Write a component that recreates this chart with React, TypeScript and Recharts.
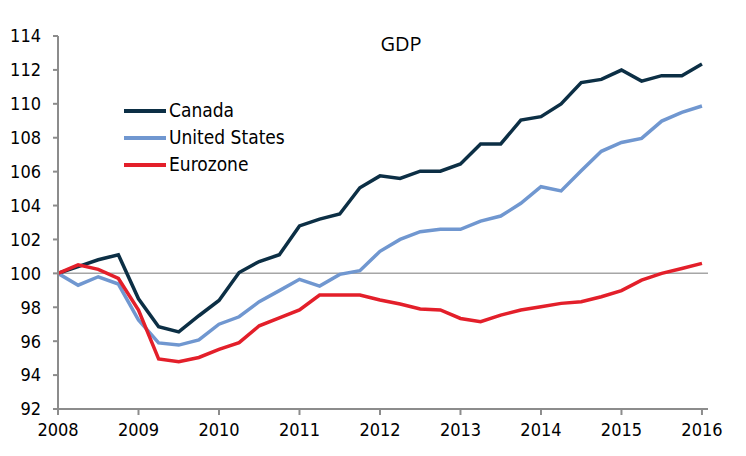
import { LineChart, Line, XAxis, YAxis, ReferenceLine } from 'recharts';

const quarters = [
  '2008Q1', '2008Q2', '2008Q3', '2008Q4',
  '2009Q1', '2009Q2', '2009Q3', '2009Q4',
  '2010Q1', '2010Q2', '2010Q3', '2010Q4',
  '2011Q1', '2011Q2', '2011Q3', '2011Q4',
  '2012Q1', '2012Q2', '2012Q3', '2012Q4',
  '2013Q1', '2013Q2', '2013Q3', '2013Q4',
  '2014Q1', '2014Q2', '2014Q3', '2014Q4',
  '2015Q1', '2015Q2', '2015Q3', '2015Q4',
  '2016Q1',
];

const canada = [
  100.0, 100.4, 100.8, 101.1,
  98.5, 96.85, 96.55, 97.5,
  98.4, 100.05, 100.7, 101.1,
  102.8, 103.2, 103.5, 105.05,
  105.75, 105.6, 106.03, 106.03,
  106.45, 107.63, 107.63, 109.04,
  109.24, 109.99, 111.25, 111.44,
  111.99, 111.34, 111.66, 111.66,
  112.35,
];

const unitedStates = [
  100.0, 99.3, 99.8, 99.37,
  97.25, 95.9, 95.77, 96.07,
  97.0, 97.44, 98.33, 98.98,
  99.65, 99.25, 99.94, 100.16,
  101.3, 102.0, 102.46, 102.6,
  102.6, 103.08, 103.38, 104.13,
  105.11, 104.86, 106.05, 107.2,
  107.72, 107.96, 108.98, 109.5,
  109.87,
];

const eurozone = [
  100.0, 100.5, 100.24, 99.7,
  97.84, 94.95, 94.79, 95.04,
  95.52, 95.91, 96.91, 97.38,
  97.84, 98.72, 98.72, 98.72,
  98.43, 98.19, 97.9, 97.84,
  97.34, 97.15, 97.54, 97.84,
  98.03, 98.23, 98.33, 98.62,
  98.98, 99.6, 100.0, 100.29,
  100.59,
];

const yearTicks = [0, 4, 8, 12, 16, 20, 24, 28, 32];
const yearLabels = ['2008', '2009', '2010', '2011', '2012', '2013', '2014', '2015', '2016'];
const yTicks = [92, 94, 96, 98, 100, 102, 104, 106, 108, 110, 112, 114];

const seriesInfo = [
  { key: 'canada', name: 'Canada', color: '#0c2f45' },
  { key: 'us', name: 'United States', color: '#7097d0' },
  { key: 'euro', name: 'Eurozone', color: '#e31f2a' },
];

const data = quarters.map((q, i) => ({
  idx: i,
  q,
  canada: canada[i],
  us: unitedStates[i],
  euro: eurozone[i],
}));

const FONT = '"DejaVu Sans Condensed", "DejaVu Sans", sans-serif';
const AXIS = '#8c8c8c';

function LegendBox() {
  return (
    <div
      style={{
        position: 'absolute',
        left: 116,
        top: 89,
        fontFamily: FONT,
        fontSize: 19,
        color: '#000',
        lineHeight: '27px',
      }}
    >
      {seriesInfo.map((s) => (
        <div key={s.key} style={{ display: 'flex', alignItems: 'center', height: 27 }}>
          <div style={{ width: 42, height: 4, background: s.color, marginRight: 3 }} />
          <span>{s.name}</span>
        </div>
      ))}
    </div>
  );
}

export default function App() {
  return (
    <div style={{ position: 'relative', width: 738, height: 440 }}>
      <LineChart
        width={738}
        height={440}
        data={data}
        margin={{ top: 28, right: 38, bottom: 9, left: 0 }}
      >
        <XAxis
          dataKey="idx"
          type="number"
          domain={[0, 32.3]}
          ticks={yearTicks}
          tickFormatter={(v: number) => yearLabels[yearTicks.indexOf(v)] ?? ''}
          stroke={AXIS}
          strokeWidth={2}
          tickSize={6}
          tickMargin={8}
          height={30}
          tick={{ fill: '#000', fontSize: 18, fontFamily: FONT }}
          interval={0}
          allowDataOverflow
        />
        <YAxis
          domain={[92, 114]}
          ticks={yTicks}
          stroke={AXIS}
          strokeWidth={2}
          tickSize={5}
          tickMargin={12}
          width={50}
          tick={{ fill: '#000', fontSize: 18, fontFamily: FONT }}
          interval={0}
          allowDataOverflow
        />
        <ReferenceLine y={100} stroke="#a6a6a6" strokeWidth={1.5} />
        {seriesInfo.map((s) => (
          <Line
            key={s.key}
            dataKey={s.key}
            name={s.name}
            type="linear"
            stroke={s.color}
            strokeWidth={3.5}
            dot={false}
            activeDot={false}
            isAnimationActive={false}
          />
        ))}
      </LineChart>
      <div
        style={{
          position: 'absolute',
          left: 353,
          top: 22,
          width: 80,
          textAlign: 'center',
          fontFamily: '"Open Sans", sans-serif',
          fontSize: 20,
          color: '#000',
        }}
      >
        GDP
      </div>
      <LegendBox />
    </div>
  );
}
